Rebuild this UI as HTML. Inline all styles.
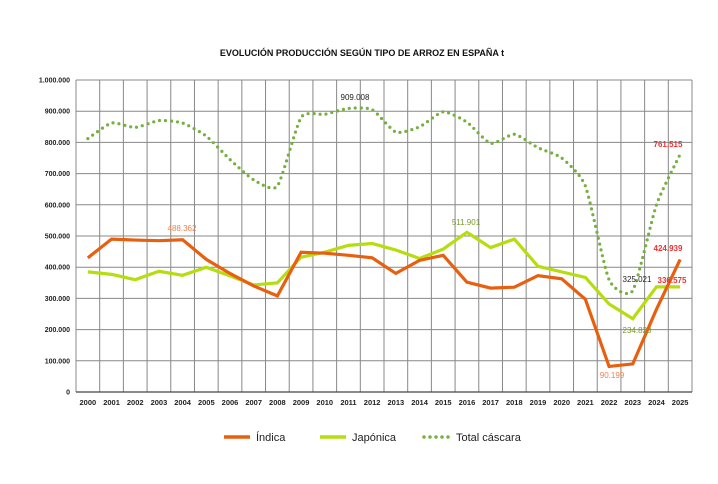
<!DOCTYPE html><html><head><style>body{margin:0;background:#fff;width:718px;height:479px;overflow:hidden}</style></head><body>
<svg id="s" width="718" height="479" xmlns="http://www.w3.org/2000/svg" font-family="Liberation Sans, Arial, sans-serif"></svg>
<script>
const L=76,R=692,T=80,B=392,n=26,cw=(R-L)/n;
const X=i=>L+cw*(i+0.5),Y=v=>B-(B-T)*v/1000;
const ind=[430,490,487,485,488,425,380,340,308,448,445,438,430,380,422,438,352,333,336,373,363,297,82,90,265,425];
const jap=[385,377,360,387,374,400,372,343,350,432,448,470,476,455,428,458,512,463,490,403,385,367,282,235,337,337];
const tot=[812,862,848,870,862,820,745,680,660,880,890,909,905,833,850,898,865,797,826,783,750,660,360,325,600,762];
let s='<text x="362" y="56" font-size="9" font-weight="bold" text-anchor="middle" fill="#111">EVOLUCIÓN PRODUCCIÓN SEGÚN TIPO DE ARROZ EN ESPAÑA t</text>';
for(let k=0;k<=10;k++){let y=Y(k*100);s+=`<line x1="${L}" x2="${R}" y1="${y}" y2="${y}" stroke="#888" stroke-width="1"/>`;
s+=`<text x="70" y="${y+2.5}" font-size="7" font-weight="bold" text-anchor="end" fill="#222">${k==0?'0':(k*100).toLocaleString('de-DE')+'.000'}</text>`;}
for(let i=0;i<=n;i++){let x=L+cw*i;s+=`<line x1="${x}" x2="${x}" y1="${T}" y2="${B}" stroke="#888" stroke-width="1"/>`;}
for(let i=0;i<n;i++)s+=`<text x="${X(i)}" y="405" font-size="7.5" font-weight="bold" text-anchor="middle" fill="#222">${2000+i}</text>`;
s+=`<line x1="${L}" x2="${R}" y1="${B}" y2="${B}" stroke="#444" stroke-width="1.2"/>`;
const poly=a=>a.map((v,i)=>X(i)+','+Y(v)).join(' ');
function smooth(a){let p=a.map((v,i)=>[X(i),Y(v)]);let d=`M${p[0]}`;const k=10;for(let i=0;i<p.length-1;i++){let p0=p[i-1]||p[i],p1=p[i],p2=p[i+1],p3=p[i+2]||p2;
d+=`C${p1[0]+(p2[0]-p0[0])/k},${p1[1]+(p2[1]-p0[1])/k} ${p2[0]-(p3[0]-p1[0])/k},${p2[1]-(p3[1]-p1[1])/k} ${p2[0]},${p2[1]}`;}return d;}
s+=`<path d="${smooth(tot)}" fill="none" stroke="#77b041" stroke-width="3.2" stroke-linecap="round" stroke-dasharray="0 6"/>`;
s+=`<polyline points="${poly(jap)}" fill="none" stroke="#b5dd10" stroke-width="3.2"/>`;
s+=`<polyline points="${poly(ind)}" fill="none" stroke="#e8600f" stroke-width="3.2"/>`;
const lab=(x,y,t,c,b)=>s+=`<text x="${x}" y="${y}" font-size="8" text-anchor="middle" fill="${c}" ${b?'font-weight="bold"':''}>${t}</text>`;
lab(182,231,'488.362','#f08050');lab(355,100,'909.008','#222');lab(466,225,'511.901','#7a9a30');
lab(637,282,'325.021','#222');lab(637,333,'234.823','#7a9a30');lab(612,378,'90.199','#f08050');
lab(668,147,'761.515','#f03030',1);lab(668,251,'424.939','#f03030',1);lab(672,283,'336.575','#f03030',1);
s+=`<line x1="224" x2="250" y1="437" y2="437" stroke="#e8600f" stroke-width="3.5"/><text x="256" y="441" font-size="11" fill="#222">Índica</text>`;
s+=`<line x1="320" x2="346" y1="437" y2="437" stroke="#b5dd10" stroke-width="3.5"/><text x="352" y="441" font-size="11" fill="#222">Japónica</text>`;
s+=`<line x1="424" x2="450" y1="437" y2="437" stroke="#77b041" stroke-width="3.5" stroke-linecap="round" stroke-dasharray="0 6"/><text x="456" y="441" font-size="11" fill="#222">Total cáscara</text>`;
document.getElementById('s').innerHTML=s;
</script></body></html>
